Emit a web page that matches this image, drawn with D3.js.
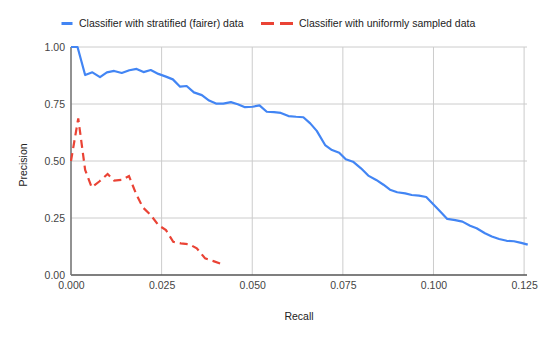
<!DOCTYPE html>
<html>
<head>
<meta charset="utf-8">
<script src="https://cdnjs.cloudflare.com/ajax/libs/d3/7.8.5/d3.min.js"></script>
<style>
  body { margin: 0; background: #fff; }
  text { font-family: "Liberation Sans", Arial, sans-serif; }
</style>
</head>
<body>
<div id="chart"></div>
<script>
// series values
var seriesNames = ["Classifier with stratified (fairer) data", "Classifier with uniformly sampled data"];

var fairRecall = [0, 0.0018, 0.0039, 0.0059, 0.0080, 0.0099, 0.0119, 0.0140, 0.0161, 0.0181,
  0.0200, 0.0220, 0.0241, 0.0262, 0.0281, 0.0301, 0.0319, 0.0339, 0.0361, 0.0381,
  0.0400, 0.0420, 0.0441, 0.0460, 0.0480, 0.0501, 0.0520, 0.0540, 0.0560, 0.0579,
  0.0600, 0.0621, 0.0641, 0.0660, 0.0678, 0.0701, 0.0720, 0.0740, 0.0758, 0.0778,
  0.0800, 0.0820, 0.0842, 0.0862, 0.0880, 0.0900, 0.0922, 0.0940, 0.0960, 0.0980,
  0.1000, 0.1018, 0.1038, 0.1060, 0.1080, 0.1101, 0.1119, 0.1142, 0.1161, 0.1181,
  0.1202, 0.1222, 0.1242, 0.1260];
var fairPrecision = [1.0, 1.0, 0.877, 0.889, 0.868, 0.889, 0.895, 0.886, 0.898, 0.904,
  0.890, 0.899, 0.882, 0.870, 0.858, 0.826, 0.829, 0.801, 0.789, 0.765,
  0.752, 0.752, 0.758, 0.749, 0.736, 0.738, 0.744, 0.716, 0.714, 0.711,
  0.697, 0.694, 0.692, 0.665, 0.632, 0.570, 0.548, 0.536, 0.508, 0.497,
  0.468, 0.436, 0.417, 0.396, 0.374, 0.363, 0.358, 0.351, 0.348, 0.342,
  0.309, 0.280, 0.246, 0.241, 0.234, 0.216, 0.205, 0.183, 0.169, 0.158,
  0.150, 0.148, 0.141, 0.133];

var uniRecall = [0, 0.0020, 0.0039, 0.0057, 0.0078, 0.0101, 0.0119, 0.0140, 0.0160, 0.0179,
  0.0198, 0.0220, 0.0241, 0.0262, 0.0282, 0.0303, 0.0326, 0.0347, 0.0370, 0.0393, 0.0416];
var uniPrecision = [0.50, 0.687, 0.461, 0.385, 0.410, 0.443, 0.414, 0.417, 0.434, 0.358,
  0.297, 0.263, 0.219, 0.197, 0.146, 0.139, 0.135, 0.117, 0.073, 0.061, 0.048];

var xTicks = [0, 0.025, 0.05, 0.075, 0.1, 0.125];
var yTicks = [0, 0.25, 0.5, 0.75, 1];

var svgWidth = 545, svgHeight = 338;
var margin = {top: 47, right: 18, bottom: 63, left: 71};
var chartWidth = svgWidth - margin.left - margin.right;
var chartHeight = svgHeight - margin.top - margin.bottom;

var blue = "#4285f4", red = "#ea4335";
var fs = "10.5px";

var svg = d3.select("#chart").append("svg")
  .attr("width", svgWidth)
  .attr("height", svgHeight)
  .style("background", "#fff");

var g = svg.append("g")
  .attr("transform", `translate(${margin.left}, ${margin.top})`);

var x = d3.scaleLinear().domain([0, 0.1258]).range([0, chartWidth]);
var y = d3.scaleLinear().domain([0, 1]).range([chartHeight, 0]);

// gridlines
g.append("g").selectAll("line").data(xTicks.slice(1)).enter().append("line")
  .attr("x1", d => x(d)).attr("x2", d => x(d))
  .attr("y1", 0).attr("y2", chartHeight)
  .attr("stroke", "#cccccc").attr("stroke-width", 1);
g.append("g").selectAll("line").data(yTicks.slice(1)).enter().append("line")
  .attr("x1", 0).attr("x2", chartWidth)
  .attr("y1", d => y(d)).attr("y2", d => y(d))
  .attr("stroke", "#cccccc").attr("stroke-width", 1);

// axes (labels only, lines drawn separately)
var xAxis = d3.axisBottom(x).tickValues(xTicks).tickFormat(d3.format(".3f")).tickSize(0).tickPadding(7);
var yAxis = d3.axisLeft(y).tickValues(yTicks).tickFormat(d3.format(".2f")).tickSize(0).tickPadding(6);

var gx = g.append("g").attr("transform", `translate(0, ${chartHeight})`).call(xAxis);
var gy = g.append("g").call(yAxis);
[gx, gy].forEach(a => {
  a.select(".domain").remove();
  a.selectAll("text").attr("fill", "#444").style("font-size", fs)
    .style("font-family", "'Liberation Sans', Arial, sans-serif");
});

// baselines
g.append("line").attr("x1", 0).attr("x2", chartWidth).attr("y1", chartHeight).attr("y2", chartHeight)
  .attr("stroke", "#555").attr("stroke-width", 1.3);
g.append("line").attr("x1", 0).attr("x2", 0).attr("y1", 0).attr("y2", chartHeight)
  .attr("stroke", "#777").attr("stroke-width", 1.6);

// lines
var fairData = fairRecall.map((r, i) => ({r: r, p: fairPrecision[i]}));
var uniData = uniRecall.map((r, i) => ({r: r, p: uniPrecision[i]}));
var line = d3.line().x(d => x(d.r)).y(d => y(d.p));

g.append("path").datum(uniData)
  .attr("d", line).attr("fill", "none")
  .attr("stroke", red).attr("stroke-width", 2.2)
  .attr("stroke-dasharray", "8,5");

g.append("path").datum(fairData)
  .attr("d", line).attr("fill", "none")
  .attr("stroke", blue).attr("stroke-width", 2.2)
  .attr("stroke-linejoin", "round");

// axis titles
svg.append("text")
  .attr("x", margin.left + chartWidth / 2).attr("y", 320)
  .attr("text-anchor", "middle").attr("fill", "#222").style("font-size", fs)
  .text("Recall");

svg.append("text")
  .attr("transform", "translate(27, 165) rotate(-90)")
  .attr("text-anchor", "middle").attr("fill", "#222").style("font-size", fs)
  .text("Precision");

// legend
var legend = svg.append("g").attr("transform", "translate(0, 23.5)");
legend.append("rect").attr("x", 61.5).attr("y", -1.5).attr("width", 11).attr("height", 3).attr("fill", blue);
legend.append("text").attr("x", 79).attr("y", 3.7).attr("fill", "#222").style("font-size", fs).text(seriesNames[0]);
legend.append("rect").attr("x", 261).attr("y", -1.5).attr("width", 13).attr("height", 3).attr("fill", red);
legend.append("rect").attr("x", 280).attr("y", -1.5).attr("width", 13).attr("height", 3).attr("fill", red);
legend.append("text").attr("x", 299).attr("y", 3.7).attr("fill", "#222").style("font-size", fs).text(seriesNames[1]);
</script>
</body>
</html>
